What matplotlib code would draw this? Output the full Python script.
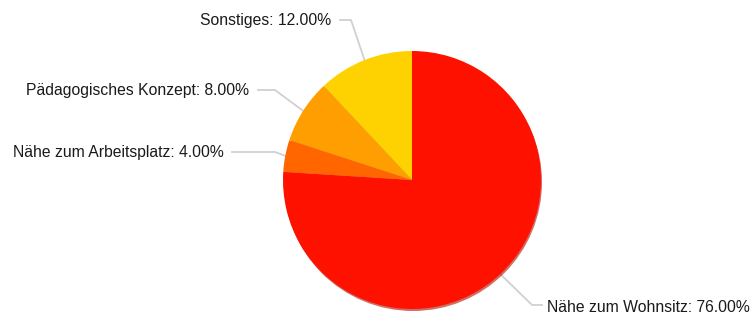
import numpy as np
import matplotlib
matplotlib.use("Agg")
import matplotlib.pyplot as plt
from matplotlib.patches import Circle

labels = ["Nähe zum Wohnsitz", "Nähe zum Arbeitsplatz", "Pädagogisches Konzept", "Sonstiges"]
values = [76, 4, 8, 12]
colors = ["#FF1100", "#FF6600", "#FF9E00", "#FDD200"]

W, H = 754, 314
fig = plt.figure(figsize=(W / 100, H / 100), dpi=100)
ax = fig.add_axes([0, 0, 1, 1])

cx, cy, r = 412, H - 180, 129

# shadow
ax.add_patch(Circle((cx + 1, cy - 2), r, color="#B00E00", alpha=0.6, zorder=1, lw=0))

wedges, _ = ax.pie(values, colors=colors, startangle=90, counterclock=False,
                   center=(cx, cy), radius=r, frame=True,
                   wedgeprops=dict(linewidth=0, zorder=2, antialiased=True))
ax.set_xlim(0, W)
ax.set_ylim(0, H)
ax.set_aspect("equal")
ax.axis("off")

# label layout: (elbow x, elbow y, line end x, text x, text y, ha) in reference pixel coords
layout = [
    (532, 305, 542, 547, 307, "left"),
    (275, 152, 232, 224, 152, "right"),
    (275, 90, 258, 249, 91, "right"),
    (351, 20, 340, 331, 21, "right"),
]

total = sum(values)
cum = 0
for lab, v, w, (ex, ey, lx, tx, ty, ha) in zip(labels, values, wedges, layout):
    mid = 90 - 360 * (cum + v / 2) / total
    cum += v
    px = cx + r * np.cos(np.radians(mid))
    py = cy + r * np.sin(np.radians(mid))
    ax.plot([px, ex, lx], [py, H - ey, H - ey], color="#D0D0D0", lw=1.3, zorder=0,
            solid_joinstyle="round")
    ax.text(tx, H - ty, f"{lab}: {v / total * 100:.2f}%", ha=ha, va="center",
            fontsize=11.3, family="Liberation Sans", color="#1a1a1a")

fig.savefig("out.png", dpi=100)
